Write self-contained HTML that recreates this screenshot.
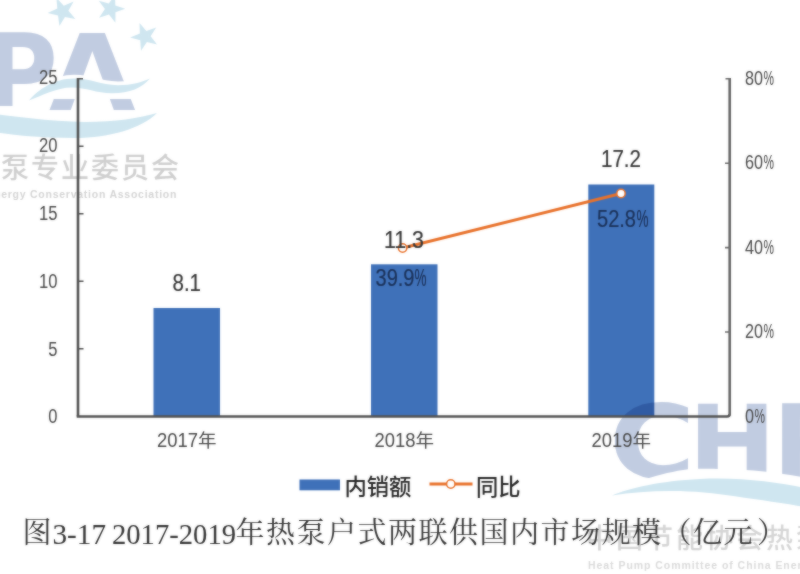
<!DOCTYPE html>
<html lang="zh">
<head>
<meta charset="utf-8">
<title>图3-17 2017-2019年热泵户式两联供国内市场规模（亿元）</title>
<style>
html,body{margin:0;padding:0;background:#fff;}
body{width:800px;height:574px;overflow:hidden;position:relative;}
svg{display:block;position:absolute;left:0;top:0;}
.ax{font-family:"Liberation Sans","Noto Sans CJK SC",sans-serif;fill:#484848;}
.dl{font-family:"Liberation Sans","Noto Sans CJK SC",sans-serif;fill:#333;stroke:#333;stroke-width:0.2;}
.cap{font-family:"Liberation Serif","Noto Serif CJK SC",serif;fill:#333;}
.lg{font-family:"Liberation Sans","Noto Sans CJK SC",sans-serif;fill:#262626;font-weight:500;}
.wl{font-family:"DejaVu Sans","Liberation Sans",sans-serif;font-weight:bold;fill:#c1cce1;}
.wc{font-family:"Noto Sans CJK SC","WenQuanYi Zen Hei",sans-serif;fill:#cfcfcf;font-weight:500;}
.we{font-family:"Liberation Sans",sans-serif;font-weight:bold;fill:#d4d4d4;}
.wv{fill:#cfe6f0;}
</style>
</head>
<body>
<svg width="800" height="574" viewBox="0 0 800 574">
<defs>
<filter id="soft" x="-5%" y="-5%" width="110%" height="110%"><feGaussianBlur stdDeviation="0.5"/></filter>
<polygon id="star" points="0,-14 3.3,-4.5 13.3,-4.3 5.3,1.7 8.2,11.3 0,5.6 -8.2,11.3 -5.3,1.7 -13.3,-4.3 -3.3,-4.5"/>
<filter id="soft2" x="0" y="0" width="800" height="574" filterUnits="userSpaceOnUse" color-interpolation-filters="sRGB"><feGaussianBlur stdDeviation="0.8" result="b"/><feComposite in="SourceGraphic" in2="b" operator="arithmetic" k1="0" k2="0.5" k3="0.5" k4="0"/></filter>
</defs>
<rect width="800" height="574" fill="#ffffff"/>
<g id="all" filter="url(#soft2)">

<!-- ================= watermark, top-left instance ================= -->
<g id="wmTL" filter="url(#soft)">
  <g class="wv">
    <use href="#star" transform="translate(62.5,11.5) rotate(-24) scale(1.07)"/>
    <use href="#star" transform="translate(110.7,9) rotate(17) scale(1.04)"/>
    <use href="#star" transform="translate(144.8,36.6) rotate(-21) scale(1.05)"/>
  </g>
  <text class="wl" x="-15.5" y="107.5" font-size="102" textLength="73.3" lengthAdjust="spacingAndGlyphs" transform="translate(0,33) scale(1,1.06) translate(0,-33)">P</text>
  <text class="wl" x="48.9" y="110" font-size="105.4" textLength="86.6" lengthAdjust="spacingAndGlyphs">A</text>
  <!-- white band that follows the waves -->
  <path d="M22 108 C34 88,54 74.8,74 74.8 C92 74.8,100 81.2,118 81.4 C134 81.4,146 76,160 68 L160 99 L40 99 L40 116 L22 116Z" fill="#fff"/>
  <path d="M-10 106 L22 106 L22 116 L-10 116Z" fill="#fff"/>
  <!-- upper wave -->
  <path class="wv" d="M29 100.5 C38 90,54 78.6,74 78.6 C92 78.6,100 85,118 85.2 C132 85.2,142 82,150 78.5 C142 88,130 93.3,112 93.3 C96 93.3,86 87.6,72 87.6 C56 87.6,42 96,29 100.5Z"/>
  <!-- lower wave -->
  <path class="wv" d="M-20 112 C10 116,50 121.5,85 122 C115 122,140 118,157 113 C142 128,110 138,75 138 C40 138,10 135,-20 130Z"/>
  <text class="wc" x="1" y="178" font-size="28" letter-spacing="2">泵专业委员会</text>
  <text class="we" x="-6" y="198" font-size="10.5" letter-spacing="0.75">nergy Conservation Association</text>
</g>

<!-- ================= bars ================= -->
<g fill="#3f71b9">
  <rect x="153.5" y="308" width="66.5" height="108"/>
  <rect x="371" y="264.3" width="66.5" height="152"/>
  <rect x="588.3" y="184.5" width="66" height="232"/>
</g>

<!-- ================= watermark, bottom-right instance ================= -->
<g id="wmBR" filter="url(#soft)" style="mix-blend-mode:multiply">
  <text class="wl" x="609.1" y="478" font-size="102" textLength="86.5" lengthAdjust="spacingAndGlyphs">C</text>
  <text class="wl" x="688.6" y="478" font-size="102" textLength="87.5" lengthAdjust="spacingAndGlyphs">H</text>
  <text class="wl" x="773" y="478" font-size="102" textLength="73.3" lengthAdjust="spacingAndGlyphs">P</text>
  <path d="M596 504 C612 494,628 485.5,644 479.7 C660 474.2,675 471,688 469.25 C700 468.3,720 468.8,746 470 C767 471.3,785 474,805 477.5 L805 500Z" fill="#fff"/>
  <path class="wv" d="M612 495.5 C630 488,660 481,700 479 C740 477,775 482,805 488 L805 507 C785 503.5,760 500,735 496.3 C715 493,690 490.8,670 491 C650 491.2,630 492.5,612 495.5Z"/>
  <text class="wc" x="586" y="547.5" font-size="27" letter-spacing="3" style="fill:#d5d5d5">中国节能协会热泵专业委员会</text>
  <text class="we" x="588" y="568.5" font-size="10.5" letter-spacing="0.95" style="fill:#dadada">Heat Pump Committee of China Energy Conservation Association</text>
</g>

<!-- ================= axes ================= -->
<path d="M78 78V416.5" stroke="#505050" stroke-width="2.6" fill="none"/>
<path d="M76.7 416.5H727 Q729.7 416.5 729.7 414" stroke="#525252" stroke-width="2.6" fill="none"/>
<path d="M729.7 78V415" stroke="#646464" stroke-width="2.6" fill="none"/>
<g stroke="#505050" stroke-width="1.6">
  <path d="M78 78.8H83M78 146.3H83.5M78 213.8H83.5M78 281.3H83.5M78 348.8H83.5"/>
</g>
<g stroke="#6a6a6a" stroke-width="1.6">
  <path d="M725.5 78.8H730M725 163.2H730M725 247.6H730M725 332H730"/>
</g>

<!-- ================= line ================= -->
<polyline points="402.6,248 621,193.5" fill="none" stroke="#e8712a" stroke-width="3"/>
<circle cx="402.6" cy="248" r="4.2" fill="#fff" stroke="#e8712a" stroke-width="1.5"/>
<circle cx="621" cy="193.5" r="4.2" fill="#fff" stroke="#e8712a" stroke-width="1.5"/>

<!-- left axis labels -->
<g class="ax" font-size="20" text-anchor="end">
  <text x="57.5" y="84.4" textLength="18.5" lengthAdjust="spacingAndGlyphs">25</text>
  <text x="57.5" y="152.2" textLength="18.5" lengthAdjust="spacingAndGlyphs">20</text>
  <text x="57.5" y="220" textLength="18.5" lengthAdjust="spacingAndGlyphs">15</text>
  <text x="57.5" y="287.8" textLength="18.5" lengthAdjust="spacingAndGlyphs">10</text>
  <text x="57.5" y="355.6" textLength="9.2" lengthAdjust="spacingAndGlyphs">5</text>
  <text x="57.5" y="423.2" textLength="9.2" lengthAdjust="spacingAndGlyphs">0</text>
</g>
<!-- right axis labels -->
<g class="ax" font-size="19.3">
  <text x="745" y="84.7" textLength="18" lengthAdjust="spacingAndGlyphs">80</text><text x="763.5" y="84.7" textLength="10.5" lengthAdjust="spacingAndGlyphs">%</text>
  <text x="745" y="169" textLength="18" lengthAdjust="spacingAndGlyphs">60</text><text x="763.5" y="169" textLength="10.5" lengthAdjust="spacingAndGlyphs">%</text>
  <text x="745" y="253.5" textLength="18" lengthAdjust="spacingAndGlyphs">40</text><text x="763.5" y="253.5" textLength="10.5" lengthAdjust="spacingAndGlyphs">%</text>
  <text x="745" y="338" textLength="18" lengthAdjust="spacingAndGlyphs">20</text><text x="763.5" y="338" textLength="10.5" lengthAdjust="spacingAndGlyphs">%</text>
  <text x="745" y="422.5" textLength="9" lengthAdjust="spacingAndGlyphs">0</text><text x="754.5" y="422.5" textLength="10.5" lengthAdjust="spacingAndGlyphs">%</text>
</g>
<!-- category labels -->
<g class="ax" font-size="20">
  <text x="157" y="447" textLength="41" lengthAdjust="spacingAndGlyphs">2017</text><text x="198" y="447" font-size="18.5">年</text>
  <text x="374.5" y="447" textLength="41" lengthAdjust="spacingAndGlyphs">2018</text><text x="415.5" y="447" font-size="18.5">年</text>
  <text x="591.5" y="447" textLength="41" lengthAdjust="spacingAndGlyphs">2019</text><text x="632.5" y="447" font-size="18.5">年</text>
</g>
<!-- data labels -->
<g class="dl" font-size="23">
  <text x="172.5" y="291" textLength="28.5" lengthAdjust="spacingAndGlyphs">8.1</text>
  <text x="384" y="247.5" textLength="40" lengthAdjust="spacingAndGlyphs">11.3</text>
  <text x="601" y="166.5" textLength="40" lengthAdjust="spacingAndGlyphs">17.2</text>
</g>
<g class="dl" font-size="23" style="fill:#1b3158;stroke:#1b3158">
  <text x="375.5" y="285.5" textLength="39" lengthAdjust="spacingAndGlyphs">39.9</text><text x="414.5" y="285.5" textLength="12" lengthAdjust="spacingAndGlyphs">%</text>
  <text x="597" y="226.5" textLength="39" lengthAdjust="spacingAndGlyphs">52.8</text><text x="636.5" y="226.5" textLength="12" lengthAdjust="spacingAndGlyphs">%</text>
</g>

<!-- ================= legend ================= -->
<rect x="299.5" y="479.5" width="40.5" height="10.8" fill="#3f71b9"/>
<text class="lg" x="344.5" y="495" font-size="22.3">内销额</text>
<line x1="429.5" y1="484" x2="472.5" y2="484" stroke="#e8712a" stroke-width="3"/>
<circle cx="450.8" cy="484" r="4.2" fill="#fff" stroke="#e8712a" stroke-width="1.5"/>
<text class="lg" x="476" y="495" font-size="22.3">同比</text>

<!-- ================= caption ================= -->
<g class="cap">
  <text x="22.5" y="542.7" font-size="29">图</text>
  <text x="52.5" y="544.3" font-size="30" textLength="53.5" lengthAdjust="spacingAndGlyphs">3-17</text>
  <text x="112" y="544.3" font-size="30" textLength="124" lengthAdjust="spacingAndGlyphs">2017-2019</text>
  <text x="235.5" y="542.7" font-size="29" letter-spacing="1.5">年热泵户式两联供国内市场规模（亿元<tspan dx="3">）</tspan></text>
</g>
</g>
</svg>
</body>
</html>
